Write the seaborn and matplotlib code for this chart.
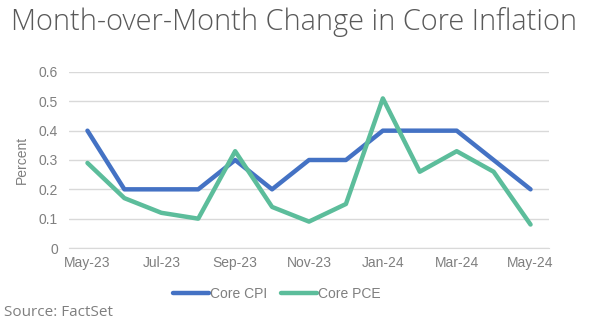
import matplotlib
matplotlib.use("Agg")
import matplotlib.pyplot as plt
import seaborn as sns
import pandas as pd
import numpy as np

months = ["May-23", "Jun-23", "Jul-23", "Aug-23", "Sep-23", "Oct-23", "Nov-23",
          "Dec-23", "Jan-24", "Feb-24", "Mar-24", "Apr-24", "May-24"]
core_cpi = [0.4, 0.2, 0.2, 0.2, 0.3, 0.2, 0.3, 0.3, 0.4, 0.4, 0.4, 0.3, 0.2]
core_pce = [0.29, 0.17, 0.12, 0.10, 0.33, 0.14, 0.09, 0.15, 0.51, 0.26, 0.33, 0.26, 0.08]
yticks = [0, 0.1, 0.2, 0.3, 0.4, 0.5, 0.6]
ytick_labels = ["0", "0.1", "0.2", "0.3", "0.4", "0.5", "0.6"]

df = pd.DataFrame({
    "idx": list(range(len(months))) * 2,
    "value": core_cpi + core_pce,
    "series": ["Core CPI"] * len(months) + ["Core PCE"] * len(months),
})

sns.set_style("white")
plt.rcParams['font.family'] = ['Liberation Sans', 'DejaVu Sans']

fig = plt.figure(figsize=(5.97, 3.30), dpi=100)
ax = fig.add_axes([69/597, 1 - 248/330, 480/597, 176/330])

palette = {"Core CPI": "#4472C4", "Core PCE": "#5CBD9B"}
sns.lineplot(data=df, x="idx", y="value", hue="series", palette=palette,
             linewidth=3.2, ax=ax, legend=False)

ax.set_xlim(-0.5, len(months) - 0.5)
ax.set_ylim(0, 0.6)
ax.set_yticks(yticks)
ax.set_yticklabels(ytick_labels)
ax.yaxis.grid(True, color="#D9D9D9", linewidth=1)
ax.set_axisbelow(True)

label_pos = list(range(0, len(months), 2))
ax.set_xticks(label_pos)
ax.set_xticklabels([months[i] for i in label_pos])
ax.set_xticks([i - 0.5 for i in label_pos], minor=True)
ax.tick_params(axis="x", which="major", length=0, pad=6, labelsize=10, labelcolor="#7F7F7F")
ax.tick_params(axis="x", which="minor", length=5, color="#D9D9D9", width=1)
ax.tick_params(axis="y", length=0, pad=8, labelsize=10, labelcolor="#7F7F7F")
for s in ["top", "right", "left"]:
    ax.spines[s].set_visible(False)
ax.spines["bottom"].set_color("#D9D9D9")
ax.set_xlabel("")
ax.set_ylabel("Percent", color="#7F7F7F", fontsize=10, labelpad=7)

from matplotlib.lines import Line2D
handles = [Line2D([0], [0], color=palette[k], linewidth=3.2) for k in ["Core CPI", "Core PCE"]]
fig.legend(handles, ["Core CPI", "Core PCE"], loc="center", bbox_to_anchor=(277/597, 1 - 294/330),
           ncol=2, frameon=False, fontsize=10, handlelength=2.6, handletextpad=0.05,
           columnspacing=1.0, labelcolor="#7F7F7F")

fig.text(11/597, 1 - 22/330, "Month-over-Month Change in Core Inflation",
         fontsize=20.9, color="#595959", va="center", ha="left",
         family=["Open Sans", "DejaVu Sans"], fontweight="light")
fig.text(4/597, 1 - 312/330, "Source: FactSet", fontsize=11, color="#7F7F7F",
         va="center", ha="left", family=["Open Sans", "DejaVu Sans"])

fig.savefig("out.png", dpi=100)
